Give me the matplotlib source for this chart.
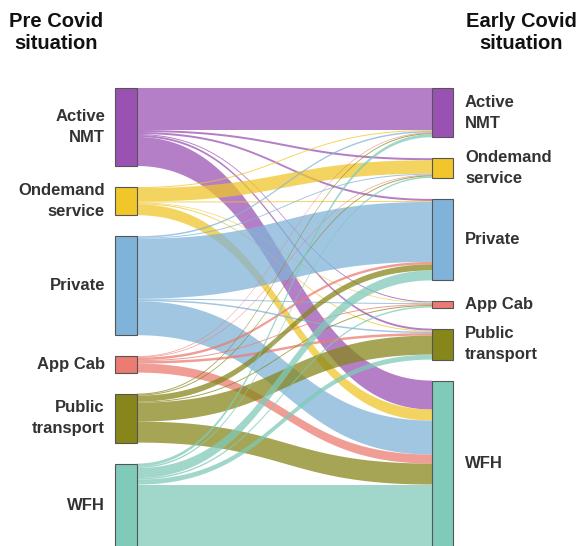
import numpy as np
import matplotlib
import matplotlib.pyplot as plt
from matplotlib.patches import Rectangle, Polygon

matplotlib.use("Agg")

plt.rcParams["font.family"] = ["Liberation Sans", "DejaVu Sans"]

# modes (same order on both sides)
modes = ["Active\nNMT", "Ondemand\nservice", "Private", "App Cab", "Public\ntransport", "WFH"]

# flows: rows = pre covid mode, columns = early covid mode
flow_active = [42, 2, 2, 1, 2, 29]
flow_ondemand = [1, 13.5, 1, 0.7, 1, 11]
flow_private = [1.5, 1, 60, 1, 1.5, 34]
flow_appcab = [0.7, 0.7, 2.5, 1, 2.5, 9]
flow_public = [1, 1, 6, 1, 19, 21]
flow_wfh = [3, 1.5, 10, 1.5, 5, 62]

node_colors = ["#9a52b2", "#f0c62a", "#80b3d9", "#ec7b72", "#86861a", "#7fcab8"]

flows = np.array([flow_active, flow_ondemand, flow_private, flow_appcab, flow_public, flow_wfh])
n = len(modes)

fig = plt.figure(figsize=(5.78, 5.46), dpi=100)
ax = fig.add_axes([0, 0, 1, 1])
ax.set_xlim(0, 578)
ax.set_ylim(546, 0)
ax.axis("off")

top = 88
gap = 21
xl0, xl1 = 115, 137
xr0, xr1 = 432, 453

out_tot = flows.sum(axis=1)
in_tot = flows.sum(axis=0)

left_y = top + np.concatenate([[0], np.cumsum(out_tot + gap)[:-1]])
right_y = top + np.concatenate([[0], np.cumsum(in_tot + gap)[:-1]])

# where each link sits inside its source / target node
src_pos = {}
for i in range(n):
    y = left_y[i]
    for j in range(n):
        src_pos[(i, j)] = y
        y += flows[i, j]
dst_pos = {}
for j in range(n):
    y = right_y[j]
    for i in range(n):
        dst_pos[(i, j)] = y
        y += flows[i, j]

t = np.linspace(0, 1, 80)
xm = (xl1 + xr0) / 2


def bez(y0, y1):
    bx = (1 - t) ** 3 * xl1 + 3 * (1 - t) ** 2 * t * xm + 3 * (1 - t) * t ** 2 * xm + t ** 3 * xr0
    by = (1 - t) ** 3 * y0 + 3 * (1 - t) ** 2 * t * y0 + 3 * (1 - t) * t ** 2 * y1 + t ** 3 * y1
    return bx, by


for i in range(n):
    for j in range(n):
        v = flows[i, j]
        if v <= 0:
            continue
        a = src_pos[(i, j)]
        b = dst_pos[(i, j)]
        x_top, y_top = bez(a, b)
        x_bot, y_bot = bez(a + v, b + v)
        pts = np.vstack([np.column_stack([x_top, y_top]),
                         np.column_stack([x_bot[::-1], y_bot[::-1]])])
        ax.add_patch(Polygon(pts, closed=True, facecolor=node_colors[i], alpha=0.74,
                             edgecolor="none", zorder=1))

for k in range(n):
    ax.add_patch(Rectangle((xl0, left_y[k]), xl1 - xl0, out_tot[k], facecolor=node_colors[k],
                           edgecolor="#555555", linewidth=0.8, zorder=3))
    ax.add_patch(Rectangle((xr0, right_y[k]), xr1 - xr0, in_tot[k], facecolor=node_colors[k],
                           edgecolor="#555555", linewidth=0.8, zorder=3))
    ax.text(105, left_y[k] + out_tot[k] / 2, modes[k], ha="right", va="center",
            fontsize=12, fontweight="bold", color="#333333", linespacing=1.5)
    ax.text(465, right_y[k] + in_tot[k] / 2, modes[k], ha="left", va="center",
            fontsize=12, fontweight="bold", color="#333333", linespacing=1.5)

ax.text(56, 12, "Pre Covid\nsituation", ha="center", va="top", fontsize=14.5,
        fontweight="bold", color="#111111", linespacing=1.2)
ax.text(521, 12, "Early Covid\nsituation", ha="center", va="top", fontsize=14.5,
        fontweight="bold", color="#111111", linespacing=1.2)

fig.savefig("out.png", dpi=100)
